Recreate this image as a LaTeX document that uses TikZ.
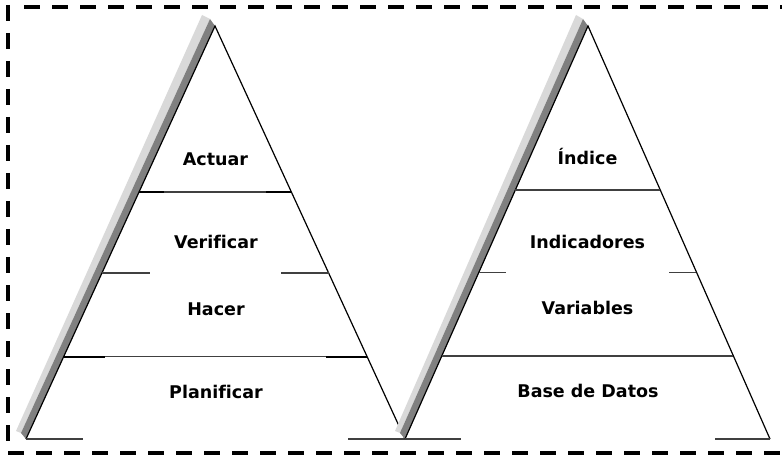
\documentclass[tikz,border=0pt]{standalone}
\usepackage{fontspec}
\setmainfont[Ligatures=NoCommon]{DejaVu Sans}
\usetikzlibrary{calc}
\begin{document}
\begin{tikzpicture}[x=1pt,y=-1pt,
  edge/.style={line width=1.2pt, black, line join=miter},
  divider/.style={line width=1.1pt, black!75},
  thickend/.style={line width=1.8pt, black},
  lbl/.style={font=\fontsize{17.5}{19}\selectfont\bfseries, inner sep=0pt, anchor=base},
  frameline/.style={line width=3.5pt, dash pattern=on 16pt off 12pt},
  shadowdark/.style={fill=black!50},
  shadowlight/.style={fill=black!15}]
\useasboundingbox (0,0) rectangle (782,457);

% dashed frame (its right side lies outside the picture)
\draw[frameline] (24,7) -- (800,7);
\draw[frameline] (8,5) -- (8,444);
\draw[frameline] (8,453) -- (800,453);

% ---------- left pyramid ----------
\coordinate (La) at (215,26);
\coordinate (Lb) at (26,439);
\coordinate (Lc) at (405,439);
\fill[shadowlight] ($(La)+(-5,-7)$) -- ($(La)+(-13,-11)$) -- ($(Lb)+(-10,-8)$) -- ($(Lb)+(-5,-6)$) -- cycle;
\fill[shadowdark] (La) -- ($(La)+(-5,-7)$) -- ($(Lb)+(-5,-6)$) -- (Lb) -- cycle;
\draw[edge] (Lb) -- (La) -- (Lc);

\coordinate (L1l) at ($(La)!0.402!(Lb)$);
\coordinate (L1r) at ($(La)!0.402!(Lc)$);
\coordinate (L2l) at ($(La)!0.598!(Lb)$);
\coordinate (L2r) at ($(La)!0.598!(Lc)$);
\coordinate (L3l) at ($(La)!0.801!(Lb)$);
\coordinate (L3r) at ($(La)!0.801!(Lc)$);

\draw[divider] (L1l) -- (L1r);
\draw[thickend] (L1l) -- ++(25,0);
\draw[thickend] (L1r) -- ++(-25,0);
\draw[divider] (L2l) -- ++(48,0);
\draw[divider] (L2r) -- ++(-48,0);
\draw[divider] (L3l) -- (L3r);
\draw[thickend] (L3l) -- ++(41,0);
\draw[thickend] (L3r) -- ++(-41,0);
\draw[divider] (Lb) -- ++(57,0);
\draw[divider] (Lc) -- ++(-57,0);

\node[lbl] (actuar) at (215.5,166) {Actuar};
\node[lbl] (verificar) at (216,249) {Verificar};
\node[lbl] (hacer) at (216,316) {Hacer};
\node[lbl] (planificar) at (216,398) {Planificar};

% ---------- right pyramid ----------
\coordinate (Ra) at (588,26);
\coordinate (Rb) at (405,439);
\coordinate (Rc) at (770,439);
\fill[shadowlight] ($(Ra)+(-5,-7)$) -- ($(Ra)+(-12,-11)$) -- ($(Rb)+(-10,-8)$) -- ($(Rb)+(-5,-6)$) -- cycle;
\fill[shadowdark] (Ra) -- ($(Ra)+(-5,-7)$) -- ($(Rb)+(-5,-6)$) -- (Rb) -- cycle;
\draw[edge] (Rb) -- (Ra) -- (Rc);

\coordinate (R1l) at ($(Ra)!0.397!(Rb)$);
\coordinate (R1r) at ($(Ra)!0.397!(Rc)$);
\coordinate (R2l) at ($(Ra)!0.596!(Rb)$);
\coordinate (R2r) at ($(Ra)!0.596!(Rc)$);
\coordinate (R3l) at ($(Ra)!0.799!(Rb)$);
\coordinate (R3r) at ($(Ra)!0.799!(Rc)$);

\draw[divider] (R1l) -- (R1r);
\draw[divider] (R2l) -- ++(27,0);
\draw[divider] (R2r) -- ++(-27,0);
\draw[divider] (R3l) -- (R3r);
\draw[divider] (Rb) -- ++(56,0);
\draw[divider] (Rc) -- ++(-55,0);

\node[lbl] (indice) at (587.5,165) {Índice};
\node[lbl] (indicadores) at (587.5,248) {Indicadores};
\node[lbl] (variables) at (587.5,314) {Variables};
\node[lbl] (basedatos) at (588,397) {Base de Datos};
\end{tikzpicture}
\end{document}
